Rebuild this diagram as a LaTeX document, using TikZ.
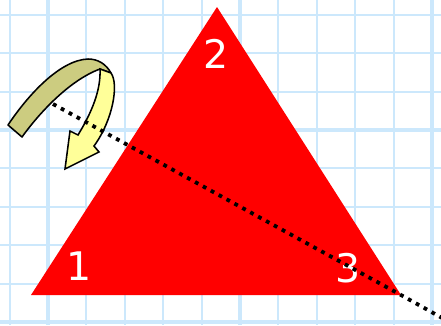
\documentclass[tikz,border=0pt]{standalone}
\usepackage{fontspec}
\newfontfamily\labfont{DejaVu Sans}
\usepackage{tikz}
\definecolor{gridblue}{RGB}{204,232,252}
\definecolor{ribbonkhaki}{RGB}{204,204,128}
\definecolor{ribbonyellow}{RGB}{255,255,153}

\begin{document}
\begin{tikzpicture}[x=0.025cm,y=-0.025cm,
  gridline/.style={draw=gridblue,line width=1.4pt},
  gridmajor/.style={draw=gridblue,line width=3pt},
  vlabel/.style={text=white,font=\labfont\fontsize{28}{28}\selectfont,inner sep=0pt},
  ribbonback/.style={fill=ribbonkhaki,draw=black,line width=1.1pt,line join=round},
  ribbonfront/.style={fill=ribbonyellow,draw=black,line width=1.1pt,line join=miter},
  axisline/.style={draw=black,line width=2.7pt,dash pattern=on 2.7pt off 3.7pt}
]
\useasboundingbox (0,0) rectangle (441,325);
\fill[white] (0,0) rectangle (441,325);

% squared paper
\foreach \k in {-1,...,10} {
  \draw[gridline] ({48+38.4*\k},0) -- ({48+38.4*\k},325);
}
\foreach \k in {-3,...,5} {
  \draw[gridline] (0,{130+38.4*\k}) -- (441,{130+38.4*\k});
}
\foreach \x in {48,240,432} \draw[gridmajor] (\x,0) -- (\x,325);
\foreach \y in {130,322} \draw[gridmajor] (0,\y) -- (441,\y);

% triangle
\coordinate (p1) at (31,295);
\coordinate (p2) at (217,7);
\coordinate (p3) at (401,295);
\fill[red] (p1) -- (p2) -- (p3) -- cycle;

\node[vlabel] (lab1) at (79,266) {1};
\node[vlabel] (lab2) at (216,54) {2};
\node[vlabel] (lab3) at (348,268) {3};

% turning arrow
\draw[ribbonback] (8,125) -- (22,137) .. controls (40,112) and (70,80) .. (100,69)
  -- (111,73) .. controls (106,64) and (98,59) .. (88,59)
  .. controls (60,60) and (28,95) .. cycle;
\draw[ribbonfront] (100,69) -- (111,73) .. controls (119,84) and (113,120) .. (94,146)
  -- (99,152) -- (65,169) -- (70,131) -- (78,135)
  .. controls (92,112) and (101,90) .. cycle;

% axis
\coordinate (axisstart) at (53,104);
\coordinate (axisend) at (444,319);
\draw[axisline] (axisstart) -- (p3) -- (axisend);
\end{tikzpicture}
\end{document}
